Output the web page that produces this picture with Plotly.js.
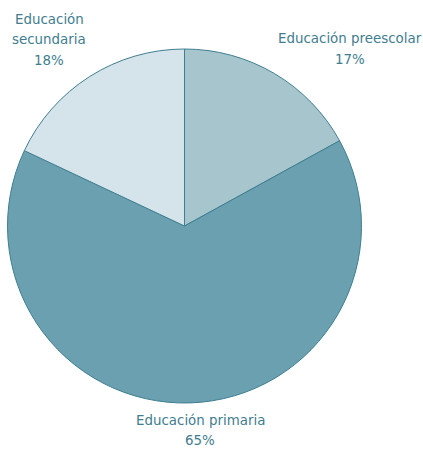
<!DOCTYPE html>
<html>
<head>
<meta charset="utf-8">
<script src="https://cdn.plot.ly/plotly-3.0.1.min.js"></script>
<style>html,body{margin:0;padding:0;background:#fff;}#chart{width:423px;height:449px;}</style>
</head>
<body>
<div id="chart"></div>
<script>
const categories = ["Educación preescolar", "Educación primaria", "Educación secundaria"];
const values = [17, 65, 18];
const colors = ["#a7c5cd", "#6aa0af", "#d4e4ea"];
const labelLines = [["Educación preescolar"], ["Educación primaria"], ["Educación", "secundaria"]];

// label block anchors (centre x, first line centre y) in pixels
const labelPos = [
  {x: 350, y: 38.5},
  {x: 200, y: 420},
  {x: 49, y: 19}
];
const lineGap = 20.5;

const annotations = [];
categories.forEach((c, i) => {
  const lines = labelLines[i].concat([values[i] + "%"]);
  lines.forEach((t, j) => {
    annotations.push({
      xref: "paper", yref: "paper",
      x: labelPos[i].x / 423, y: 1 - (labelPos[i].y + j * lineGap) / 449,
      xanchor: "center", yanchor: "middle",
      text: t,
      showarrow: false,
      font: {family: "DejaVu Sans, Verdana, sans-serif", size: 13.4, color: "#3f7d8f"}
    });
  });
});

const trace = {
  type: "pie",
  labels: categories,
  values: values,
  sort: false,
  direction: "clockwise",
  rotation: 0,
  textinfo: "none",
  hoverinfo: "label+percent",
  marker: {colors: colors, line: {color: "#3f7f91", width: 1}},
  domain: {x: [7/423, 362/423], y: [46/449, 400/449]},
  showlegend: false
};

Plotly.newPlot("chart", [trace], {
  width: 423, height: 449,
  margin: {l: 0, r: 0, t: 0, b: 0},
  paper_bgcolor: "#ffffff",
  showlegend: false,
  annotations: annotations
}, {displayModeBar: false, staticPlot: true});
</script>
</body>
</html>
